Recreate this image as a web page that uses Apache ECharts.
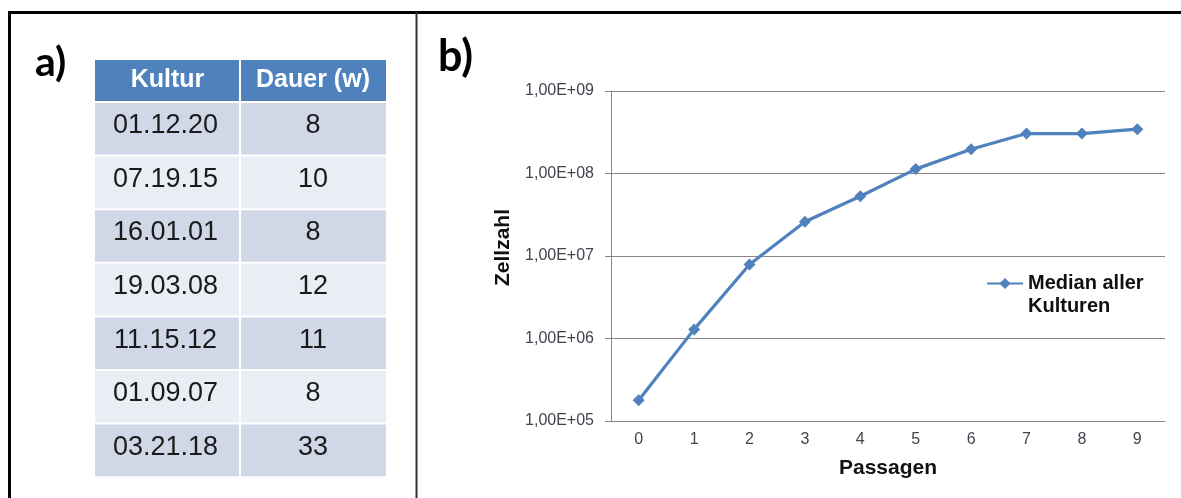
<!DOCTYPE html>
<html>
<head>
<meta charset="utf-8">
<script src="https://cdn.jsdelivr.net/npm/echarts@6/dist/echarts.min.js"></script>
<style>
  html, body { margin: 0; padding: 0; background: #fff; }
  #chart { width: 1181px; height: 498px; }
</style>
</head>
<body>
<div id="chart"></div>
<script>
  // table a)
  var tableHeader = ['Kultur', 'Dauer (w)'];
  var kulturen = ['01.12.20', '07.19.15', '16.01.01', '19.03.08', '11.15.12', '01.09.07', '03.21.18'];
  var dauer = [8, 10, 8, 12, 11, 8, 33];

  // chart b)
  var passagen = ['0', '1', '2', '3', '4', '5', '6', '7', '8', '9'];
  var median = [1.78e5, 1.29e6, 7.9e6, 2.6e7, 5.3e7, 1.13e8, 1.97e8, 3.05e8, 3.05e8, 3.45e8];
  var seriesName = 'Median aller Kulturen';

  var FONT = '"Liberation Sans", Arial, sans-serif';
  var BLUE = '#4F81BD';

  function buildTable() {
    var g = [];
    var cols = [95, 240, 386];
    var headTop = 60, headH = 41;
    var rowTop = 103, rowH = 51.6, pitch = 53.6;

    for (var c = 0; c < 2; c++) {
      g.push({
        type: 'rect',
        shape: { x: cols[c] + (c ? 1 : 0), y: headTop, width: cols[c + 1] - cols[c] - 1, height: headH },
        style: { fill: BLUE }
      });
      g.push({
        type: 'text',
        x: (cols[c] + cols[c + 1]) / 2, y: headTop + headH / 2,
        style: {
          text: tableHeader[c], fill: '#fff', font: 'bold 25px ' + FONT,
          align: 'center', verticalAlign: 'middle'
        }
      });
    }

    for (var r = 0; r < kulturen.length; r++) {
      var y = rowTop + r * pitch;
      var fill = r % 2 === 0 ? '#D0D8E8' : '#E9EDF4';
      var vals = [kulturen[r], String(dauer[r])];
      for (var k = 0; k < 2; k++) {
        g.push({
          type: 'rect',
          shape: { x: cols[k] + (k ? 1 : 0), y: y, width: cols[k + 1] - cols[k] - 1, height: rowH },
          style: { fill: fill }
        });
        g.push({
          type: 'text',
          x: (cols[k] + cols[k + 1]) / 2 - (k ? 0 : 2), y: y + rowH / 2 - 3,
          style: {
            text: vals[k], fill: '#1a1a1a', font: '27px ' + FONT,
            align: 'center', verticalAlign: 'middle'
          }
        });
      }
    }
    return g;
  }

  var graphics = [
    // frame
    { type: 'line', shape: { x1: 8, y1: 12.5, x2: 1181, y2: 12.5 }, style: { stroke: '#000', lineWidth: 3 } },
    { type: 'line', shape: { x1: 9.5, y1: 11, x2: 9.5, y2: 498 }, style: { stroke: '#000', lineWidth: 3 } },
    { type: 'line', shape: { x1: 416.5, y1: 12, x2: 416.5, y2: 498 }, style: { stroke: '#333', lineWidth: 2 } },
    // panel letters
    { type: 'text', x: 35, y: 63, style: { text: 'a)', font: 'bold 41px Lato, sans-serif', fill: '#000', verticalAlign: 'middle' } },
    { type: 'text', x: 438, y: 57, style: { text: 'b)', font: 'bold 43px Lato, sans-serif', fill: '#000', verticalAlign: 'middle' } }
  ].concat(buildTable());

  var chart = echarts.init(document.getElementById('chart'));
  chart.setOption({
    backgroundColor: '#fff',
    animation: false,
    graphic: graphics,
    grid: { left: 611, right: 16, top: 91, bottom: 77, containLabel: false },
    legend: {
      data: [seriesName],
      left: 986,
      top: 249,
      padding: 0,
      itemWidth: 36,
      itemHeight: 14,
      // blank first line keeps the icon on the "Median aller" line
      formatter: function () { return '\u00a0\nMedian aller\nKulturen'; },
      textStyle: {
        fontFamily: FONT, fontWeight: 'bold', fontSize: 20, color: '#111',
        lineHeight: 23
      }
    },
    xAxis: {
      type: 'category',
      data: passagen,
      boundaryGap: true,
      name: 'Passagen',
      nameLocation: 'middle',
      nameGap: 37,
      nameTextStyle: { fontFamily: FONT, fontWeight: 'bold', fontSize: 21, color: '#111' },
      axisLine: { lineStyle: { color: '#878787', width: 1 } },
      axisTick: { length: 5, lineStyle: { color: '#878787' } },
      axisLabel: { fontFamily: FONT, fontSize: 16, color: '#44424f', margin: 11 }
    },
    yAxis: {
      type: 'log',
      logBase: 10,
      min: 1e5,
      max: 1e9,
      name: 'Zellzahl',
      nameLocation: 'middle',
      nameGap: 97,
      nameRotate: 90,
      nameTextStyle: {
        fontFamily: FONT, fontWeight: 'bold', fontSize: 21, color: '#111',
        padding: [0, 0, 0, 17]
      },
      axisLine: { show: true, lineStyle: { color: '#878787', width: 1 } },
      axisTick: { show: true, length: 6, lineStyle: { color: '#878787' } },
      splitLine: { lineStyle: { color: '#878787', width: 1 } },
      minorTick: { show: false },
      axisLabel: {
        fontFamily: FONT, fontSize: 16, color: '#44424f', margin: 17,
        formatter: function (v) {
          var e = Math.round(Math.log10(v));
          return '1,00E+' + (e < 10 ? '0' + e : e);
        }
      }
    },
    series: [{
      name: seriesName,
      type: 'line',
      data: median,
      symbol: 'diamond',
      symbolSize: 12,
      itemStyle: { color: BLUE },
      lineStyle: { color: BLUE, width: 3.2 }
    }]
  });
</script>
</body>
</html>
